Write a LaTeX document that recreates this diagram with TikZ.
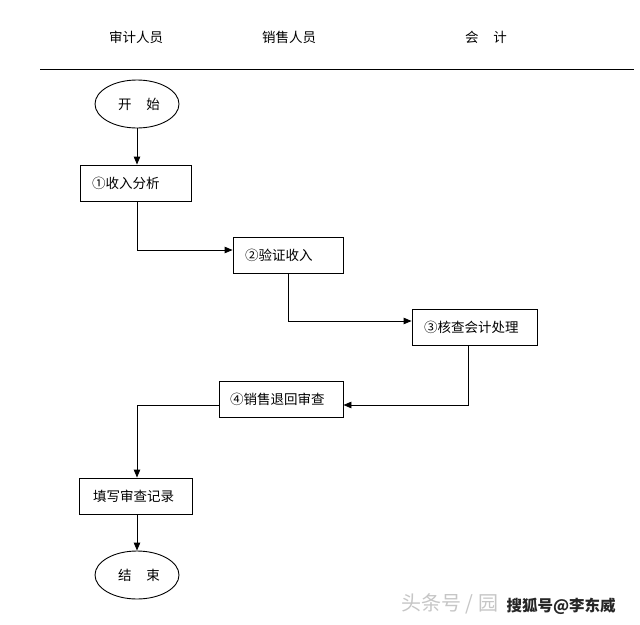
\documentclass[tikz,border=0pt]{standalone}
\usepackage{fontspec}
\newfontfamily\cjk{Noto Sans CJK SC}
\usetikzlibrary{arrows.meta,shapes.geometric}
\begin{document}
\begin{tikzpicture}[x=1pt,y=-1pt,
  every node/.style={font=\cjk\fontsize{13.5}{15}\selectfont},
  box/.style={draw,line width=0.9pt,minimum height=36pt,inner xsep=12pt,inner ysep=0pt,align=left},
  term/.style={draw,ellipse,line width=0.9pt,minimum width=84pt,minimum height=48pt,inner sep=0pt},
  arr/.style={line width=0.9pt,-{Triangle[length=8pt,width=6.5pt]}},
  ln/.style={line width=0.9pt},
  head/.style={font=\cjk\fontsize{13.5}{15}\selectfont}]
\useasboundingbox (0,0) rectangle (640,624);
\fill[white] (0,0) rectangle (640,624);
% header
\node[head] (h1) at (136,37) {审计人员};
\node[head] (h2) at (289,37) {销售人员};
\node[head] (h3) at (486,37) {会\hspace{1.1em}计};
\coordinate (l1) at (40,69);
\coordinate (l2) at (634,69);
\draw[line width=1pt] (l1) -- (l2);
% nodes
\node[term] (start) at (137,104) {\hspace{4pt}开\hspace{1.1em}始};
\node[box,text width=87pt] (b1) at (135.5,183) {①收入分析};
\node[box,text width=86pt] (b2) at (288,255) {②验证收入};
\node[box,text width=101pt] (b3) at (474.5,327.5) {③核查会计处理};
\node[box,text width=102pt,inner xsep=11pt] (b4) at (281,399) {④销售退回审查};
\node[box,text width=85pt,inner xsep=14pt] (b5) at (135.5,496) {填写审查记录};
\node[term] (end) at (137,575) {\hspace{4pt}结\hspace{1.1em}束};
% connectors
\draw[arr] (start.south -| 137,0) -- (b1.north -| 137,0);
\draw[arr] (b1.south -| 137,0) |- (b2.west |- 0,250);
\draw[arr] (b2.south) |- (b3.west |- 0,321);
\draw[arr] (b3.south -| 468,0) |- (b4.east |- 0,405);
\draw[arr] (b4.west |- 0,405) -| (b5.north -| 137,0);
\draw[arr] (b5.south -| 137,0) -- (end.north -| 137,0);
% watermark
\node[anchor=west,text=gray!45,font=\cjk\fontsize{20}{22}\selectfont] (wm1) at (398,604) {头条号 / 园};
\node[anchor=west,text=black!85,font=\cjk\bfseries\fontsize{15.5}{17}\selectfont] (wm2) at (503,606) {搜狐号@李东威};
\end{tikzpicture}
\end{document}
